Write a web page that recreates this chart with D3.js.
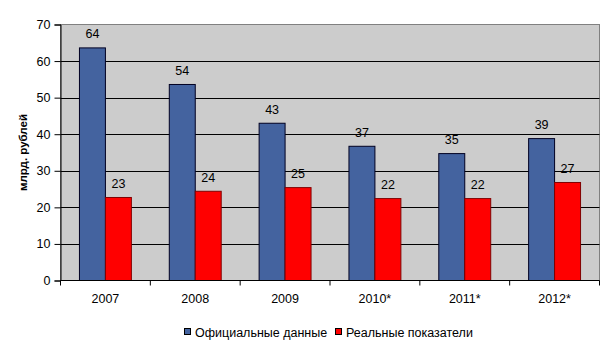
<!DOCTYPE html>
<html><head><meta charset="utf-8">
<script src="https://cdn.jsdelivr.net/npm/d3@7"></script>
<style>
body{margin:0;background:#fff;}
svg{display:block;font-family:"Liberation Sans",Arial,sans-serif;}
</style></head>
<body>
<svg id="chart" width="615" height="347"></svg>
<script>
const categories = ["2007","2008","2009","2010*","2011*","2012*"];
const seriesNames = ["Официальные данные","Реальные показатели"];
const official = [63.6, 53.6, 43.0, 36.7, 34.7, 38.8];
const real = [22.7, 24.4, 25.4, 22.4, 22.4, 26.8];
const yTicks = [0,10,20,30,40,50,60,70];
const colors = ["#44639F","#FF0000"];
const strokes = ["#000022","#800000"];
const yTitle = "млрд. рублей";

const svg = d3.select("#chart");
const pLeft = 60.5, pRight = 599.5, pTop = 24.5, pBottom = 280.5;
const fs = "12.5px";

const x = d3.scaleBand().domain(categories).range([pLeft,pRight]).paddingInner(0).paddingOuter(0);
const xs = d3.scaleBand().domain([0,1]).range([0,x.bandwidth()]).paddingInner(0).paddingOuter(0.73);
const y = d3.scaleLinear().domain([0,70]).range([pBottom,pTop]);

// plot background
svg.append("rect").attr("x",pLeft).attr("y",pTop).attr("width",pRight-pLeft).attr("height",pBottom-pTop)
  .attr("fill","#cccccc").attr("stroke","#808080").attr("stroke-width",1);

// gridlines
svg.append("g").selectAll("line").data(yTicks.filter(d=>d>0 && d<70)).join("line")
  .attr("x1",pLeft).attr("x2",pRight).attr("y1",d=>Math.round(y(d))+0.5).attr("y2",d=>Math.round(y(d))+0.5)
  .attr("stroke","#000").attr("stroke-width",1);

const data = categories.map((c,i)=>({c, vals:[official[i], real[i]]}));

const groups = svg.append("g").selectAll("g").data(data).join("g")
  .attr("transform",d=>`translate(${x(d.c)},0)`);

groups.selectAll("rect").data(d=>d.vals.map((v,k)=>({v,k}))).join("rect")
  .attr("x",d=>xs(d.k)).attr("width",xs.bandwidth())
  .attr("y",d=>y(d.v)).attr("height",d=>pBottom-y(d.v))
  .attr("fill",d=>colors[d.k]).attr("stroke",d=>strokes[d.k]).attr("stroke-width",1);

groups.selectAll("text").data(d=>d.vals.map((v,k)=>({v,k}))).join("text")
  .attr("x",d=>xs(d.k)+xs.bandwidth()/2).attr("y",d=>y(d.v)-9.5)
  .attr("text-anchor","middle").attr("font-size",fs).attr("fill","#000")
  .text(d=>Math.round(d.v));

// y axis
const yAxis = d3.axisLeft(y).tickValues(yTicks).tickSize(6).tickPadding(4).tickFormat(d3.format("d"));
const gy = svg.append("g").attr("transform",`translate(${pLeft},0)`).call(yAxis);
gy.select(".domain").attr("stroke","#000");
gy.selectAll(".tick line").attr("stroke","#000");
gy.selectAll("text").attr("font-size",fs).attr("font-family","Liberation Sans, Arial, sans-serif").attr("fill","#000");

// x axis
const gx = svg.append("g").attr("transform",`translate(0,${pBottom})`);
gx.append("line").attr("x1",pLeft).attr("x2",pRight).attr("y1",0).attr("y2",0).attr("stroke","#000");
const bounds = categories.map(c=>x(c)).concat([pRight]);
gx.selectAll("line.t").data(bounds).join("line").attr("class","t")
  .attr("x1",d=>d).attr("x2",d=>d).attr("y1",0).attr("y2",5).attr("stroke","#000");
gx.selectAll("text").data(categories).join("text")
  .attr("x",d=>x(d)+x.bandwidth()/2).attr("y",22.5).attr("text-anchor","middle")
  .attr("font-size",fs).attr("fill","#000").text(d=>d);

// y title
svg.append("text").attr("transform",`translate(27,${(pTop+pBottom)/2}) rotate(-90)`)
  .attr("text-anchor","middle").attr("font-size","11.5px").attr("font-weight","bold").text(yTitle);

// legend
const legX = [184, 335];
const leg = svg.append("g").selectAll("g").data(seriesNames).join("g")
  .attr("transform",(d,i)=>`translate(${legX[i]},328)`);
leg.append("rect").attr("x",0.5).attr("y",0.5).attr("width",6).attr("height",6)
  .attr("fill",(d,i)=>colors[i]).attr("stroke","#000");
leg.append("text").attr("x",11).attr("y",8.5).attr("font-size",fs).text(d=>d);
</script>
</body></html>
